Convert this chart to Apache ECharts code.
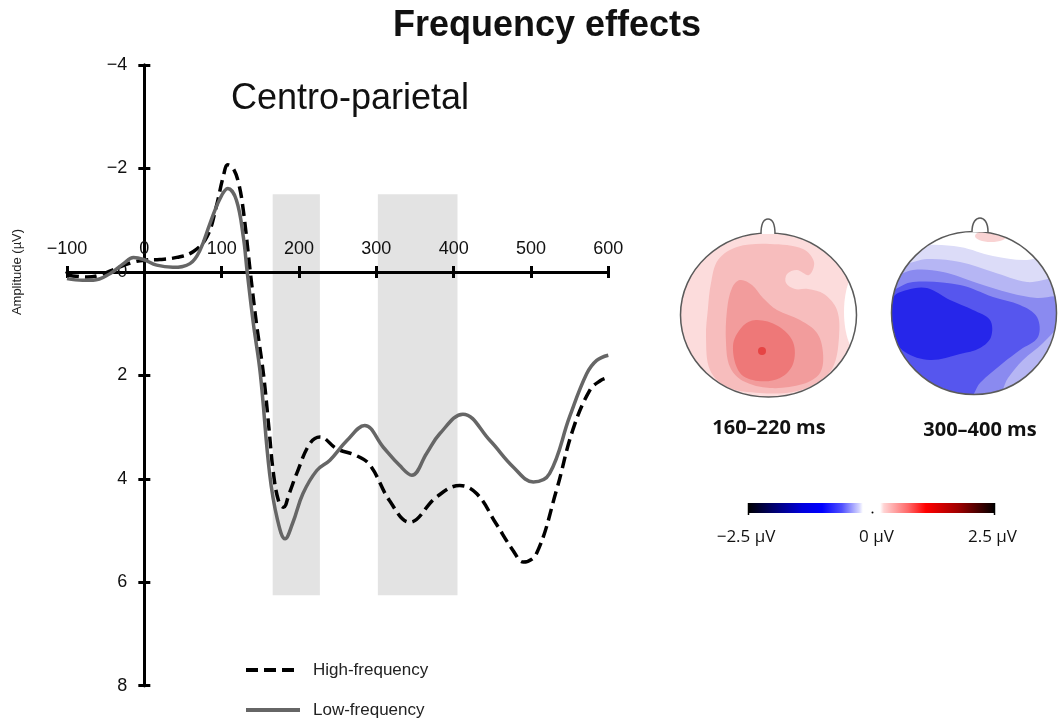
<!DOCTYPE html>
<html>
<head>
<meta charset="utf-8">
<script src="https://cdn.jsdelivr.net/npm/echarts@6/dist/echarts.min.js"></script>
<style>html,body{margin:0;padding:0;background:#fff}#c{width:1061px;height:720px}</style>
</head>
<body>
<div id="c"></div>
<script>
// ---- data ----
const seriesNames = ['High-frequency', 'Low-frequency'];
const hfTime = [-100,-74,-57,-36,-14,3,20,42,63,81,93,102,108,115,122,128,137,145,154,161,167,174,180,187,197,214,227,249,274,292,317,343,378,408,430,455,477,490,507,533,554,576,590,600];
const hfAmp  = [0.06,0.1,0.06,-0.07,-0.19,-0.23,-0.24,-0.28,-0.39,-0.68,-1.26,-1.84,-2.07,-2.0,-1.71,-1.19,0,1.0,1.97,3.0,3.9,4.45,4.55,4.3,3.9,3.32,3.19,3.42,3.55,3.74,4.42,4.84,4.35,4.13,4.29,4.87,5.39,5.61,5.45,4.22,3.06,2.29,2.1,2.04];
const lfTime = [-100,-80,-66,-44,-27,-14,-1,16,37,59,72,85,98,108,119,128,133,141,150,162,172,182,192,205,223,240,262,285,309,330,346,365,382,412,447,477,503,524,550,572,585,600];
const lfAmp  = [0.13,0.16,0.16,0.03,-0.16,-0.28,-0.24,-0.13,-0.09,-0.16,-0.42,-0.94,-1.42,-1.61,-1.39,-0.68,0.0,1.0,1.97,3.9,4.78,5.16,4.85,4.29,3.84,3.64,3.26,2.97,3.39,3.74,3.93,3.51,3.13,2.75,3.26,3.77,4.06,3.9,2.8,1.97,1.71,1.61];
const bandWindows = [[166, 227], [302, 405]];
const bandAmpRange = [-1.5, 6.25];
const xRange = [-100, 600], xStep = 100;
const yRange = [-4, 8], yStep = 2;
const topoLabels = ['160–220 ms', '300–400 ms'];
const scaleLabels = ['−2.5 µV', '0 µV', '2.5 µV'];

const hfData = hfTime.map((t, i) => [t, hfAmp[i]]);
const lfData = lfTime.map((t, i) => [t, lfAmp[i]]);
const minus = v => String(v).replace('-', '−');
const FONT = '"Liberation Sans", Arial, sans-serif';
const AX = '#000';

function axisCommon(extra) {
  return Object.assign({
    type: 'value', z: 2,
    axisLine: { show: true, onZero: true, onZeroAxisIndex: 0, lineStyle: { color: AX, width: 3 } },
    axisTick: { show: true, inside: false, length: 6, lineStyle: { color: AX, width: 3 } },
    splitLine: { show: false }
  }, extra);
}

// topomap helpers (decorative inset drawings)
const L = { cx: 768.5, cy: 315, rx: 88, ry: 82 };
const R = { cx: 974, cy: 313, rx: 82.5, ry: 81.5 };
function maskPath(x0, y0, x1, y1, e) {
  return `M${x0} ${y0} L${x1} ${y0} L${x1} ${y1} L${x0} ${y1} Z M${e.cx + e.rx} ${e.cy} A${e.rx} ${e.ry} 0 1 0 ${e.cx - e.rx} ${e.cy} A${e.rx} ${e.ry} 0 1 0 ${e.cx + e.rx} ${e.cy} Z`;
}
echarts.graphic.registerShape('maskL', echarts.graphic.extendPath(maskPath(672, 224, 878, 416, L), {}));
echarts.graphic.registerShape('maskR', echarts.graphic.extendPath(maskPath(876, 224, 1061, 416, R), {}));
echarts.graphic.registerShape('noseL', echarts.graphic.extendPath('M761 234 C761 223 764 219 768 219 C772 219 775 223 775 234', {}));
echarts.graphic.registerShape('noseR', echarts.graphic.extendPath('M972 232 C972 222 976 218 980 218 C984 218 988 222 988 232', {}));

function poly(points, color, z) {
  return { type: 'polygon', z: z, silent: true, shape: { points: points, smooth: 0.35 }, style: { fill: color } };
}

const graphics = [
  // left map
  { type: 'ellipse', z: 10, silent: true, shape: L, style: { fill: '#fcdcdc' } },
  { type: 'ellipse', z: 10, silent: true, shape: { cx: 860, cy: 312, rx: 16, ry: 42 }, style: { fill: '#ffffff' } },
  poly([[718,260],[737,247],[770,244],[803,249],[814,262],[809,275],[797,270],[787,274],[786,283],[795,289],[808,289],[824,294],[837,310],[839,337],[833,367],[817,383],[793,392],[760,393],[727,387],[710,370],[706,337],[708,308],[711,283]], '#f7bdbd', 10),
  poly([[740,280],[752,285],[763,298],[777,310],[800,320],[817,333],[823,353],[820,373],[803,384],[770,388],[743,381],[730,367],[726,343],[727,310],[732,288]], '#f29c9c', 10),
  poly([[733,346],[742,327],[756,320],[778,326],[793,342],[793,364],[780,378],[758,381],[740,373]], '#ee7878', 10),
  { type: 'circle', z: 10, silent: true, shape: { cx: 762, cy: 351, r: 4 }, style: { fill: '#e64444' } },
  // right map
  { type: 'ellipse', z: 10, silent: true, shape: R, style: { fill: '#ffffff' } },
  { type: 'ellipse', z: 10, silent: true, shape: { cx: 991, cy: 236, rx: 16, ry: 6 }, style: { fill: '#f9d3d3' } },
  poly([[882,252],[908,251],[927,245],[960,247],[993,256],[1027,260],[1060,254],[1060,362],[1050,378],[1035,392],[1030,399],[882,399]], '#dcdcf8', 10),
  poly([[882,266],[905,264],[927,259],[960,262],[993,272],[1027,282],[1060,281],[1060,343],[1045,356],[1035,370],[1022,386],[1012,399],[882,399]], '#b6b6f4', 10),
  poly([[882,282],[893,278],[913,270],[943,272],[977,283],[1010,293],[1037,298],[1060,298],[1060,322],[1043,343],[1023,360],[1008,378],[995,399],[882,399]], '#8a8af0', 10),
  poly([[882,294],[893,290],[913,282],[960,285],[993,297],[1020,305],[1037,317],[1038,337],[1020,350],[1003,363],[980,383],[968,399],[882,399]], '#5656ee', 10),
  poly([[893,298],[907,290],[927,288],[950,300],[973,310],[990,320],[991,337],[980,348],[960,354],[930,360],[905,352],[893,335]], '#2626ea', 10),
  // masks, outlines, noses
  { type: 'maskL', z: 11, silent: true, style: { fill: '#fff' } },
  { type: 'maskR', z: 11, silent: true, style: { fill: '#fff' } },
  { type: 'ellipse', z: 12, silent: true, shape: L, style: { fill: null, stroke: '#5a5a5a', lineWidth: 1.5 } },
  { type: 'ellipse', z: 12, silent: true, shape: R, style: { fill: null, stroke: '#5a5a5a', lineWidth: 1.5 } },
  { type: 'noseL', z: 12, silent: true, style: { fill: '#fff', stroke: '#5a5a5a', lineWidth: 1.5 } },
  { type: 'noseR', z: 12, silent: true, style: { fill: '#fff', stroke: '#5a5a5a', lineWidth: 1.5 } },
  // topomap labels
  { type: 'text', z: 12, x: 769, y: 428, style: { text: topoLabels[0], font: 'bold 20px "Open Sans", sans-serif', fill: '#111', align: 'center', verticalAlign: 'middle' } },
  { type: 'text', z: 12, x: 980, y: 430, style: { text: topoLabels[1], font: 'bold 20px "Open Sans", sans-serif', fill: '#111', align: 'center', verticalAlign: 'middle' } },
  // colour scale
  { type: 'rect', z: 12, silent: true, shape: { x: 748, y: 503, width: 247, height: 10 },
    style: { fill: new echarts.graphic.LinearGradient(0, 0, 1, 0, [
      { offset: 0, color: '#000000' }, { offset: 0.1, color: '#00006a' }, { offset: 0.22, color: '#0000dd' },
      { offset: 0.3, color: '#0000ff' }, { offset: 0.38, color: '#5050ff' }, { offset: 0.45, color: '#d4d4ff' },
      { offset: 0.465, color: '#ffffff' }, { offset: 0.535, color: '#ffffff' }, { offset: 0.55, color: '#ffd4d4' },
      { offset: 0.65, color: '#ff6666' }, { offset: 0.72, color: '#ff0000' }, { offset: 0.85, color: '#a00000' },
      { offset: 1, color: '#000000' }]) } },
  { type: 'line', z: 12, silent: true, shape: { x1: 748.5, y1: 503, x2: 748.5, y2: 515 }, style: { stroke: '#000', lineWidth: 1.5 } },
  { type: 'line', z: 12, silent: true, shape: { x1: 994.5, y1: 503, x2: 994.5, y2: 515 }, style: { stroke: '#000', lineWidth: 1.5 } },
  { type: 'circle', z: 12, silent: true, shape: { cx: 872.5, cy: 512.5, r: 1 }, style: { fill: '#000' } },
  { type: 'text', z: 12, x: 746, y: 537, style: { text: scaleLabels[0], font: '17px "Open Sans", sans-serif', fill: '#111', align: 'center', verticalAlign: 'middle' } },
  { type: 'text', z: 12, x: 876.5, y: 537, style: { text: scaleLabels[1], font: '17px "Open Sans", sans-serif', fill: '#111', align: 'center', verticalAlign: 'middle' } },
  { type: 'text', z: 12, x: 992.5, y: 537, style: { text: scaleLabels[2], font: '17px "Open Sans", sans-serif', fill: '#111', align: 'center', verticalAlign: 'middle' } },
  // panel label and axis name
  { type: 'text', z: 12, x: 231, y: 99, style: { text: 'Centro-parietal', font: '36px ' + FONT, fill: '#111', align: 'left', verticalAlign: 'middle' } },
  { type: 'text', z: 12, x: 17, y: 272, rotation: Math.PI / 2, style: { text: 'Amplitude (µV)', font: '13px ' + FONT, fill: '#222', align: 'center', verticalAlign: 'middle' } }
];

function legendFor(name, top) {
  return {
    orient: 'vertical', left: 244, top: top, padding: 0, itemWidth: 54, itemHeight: 14,
    data: [name],
    itemStyle: { opacity: 0, color: 'rgba(0,0,0,0)', borderWidth: 0 },
    lineStyle: { width: 4 },
    textStyle: { fontFamily: FONT, fontSize: 17, color: '#222', lineHeight: 20, padding: [0, 0, 0, 8] }
  };
}

const chart = echarts.init(document.getElementById('c'), null, { renderer: 'canvas' });
chart.setOption({
  animation: false,
  backgroundColor: '#fff',
  title: {
    text: 'Frequency effects', left: 542, top: 3, textAlign: 'center',
    textStyle: { fontFamily: FONT, fontWeight: 'bold', fontSize: 36, color: '#111' }
  },
  grid: { left: 67, top: 65, width: 541.3, height: 620.7, containLabel: false },
  legend: [legendFor(seriesNames[0], 660), legendFor(seriesNames[1], 700)],
  xAxis: [
    axisCommon({ min: xRange[0], max: xRange[1], interval: xStep, position: 'top',
      axisLabel: { show: true, margin: 14, fontFamily: FONT, fontSize: 18, color: '#111', formatter: minus } }),
    axisCommon({ min: xRange[0], max: xRange[1], interval: xStep, position: 'bottom',
      axisLabel: { show: false } })
  ],
  yAxis: [
    axisCommon({ min: yRange[0], max: yRange[1], interval: yStep, inverse: true, position: 'left',
      axisLabel: { show: true, margin: 17, fontFamily: FONT, fontSize: 18, color: '#111', formatter: minus } }),
    axisCommon({ min: yRange[0], max: yRange[1], interval: yStep, inverse: true, position: 'right',
      axisLabel: { show: false } })
  ],
  series: [
    {
      name: seriesNames[0], type: 'line', z: 3, data: hfData, smooth: 0.4, symbol: 'none',
      lineStyle: { color: '#000', width: 3.5, type: [12, 6] }, itemStyle: { color: '#000' },
      markArea: {
        silent: true, itemStyle: { color: '#e3e3e3' },
        data: bandWindows.map(b => [{ xAxis: b[0], yAxis: bandAmpRange[0] }, { xAxis: b[1], yAxis: bandAmpRange[1] }])
      }
    },
    {
      name: seriesNames[1], type: 'line', z: 3, data: lfData, smooth: 0.4, symbol: 'none',
      lineStyle: { color: '#666', width: 3.5 }, itemStyle: { color: '#666' }
    }
  ],
  graphic: graphics
});

// place the crossing axes (and their labels) at the zero lines, using the chart's own scales
const px0 = chart.convertToPixel({ xAxisIndex: 0 }, 0);
const pxL = chart.convertToPixel({ xAxisIndex: 0 }, xRange[0]);
const pxR = chart.convertToPixel({ xAxisIndex: 0 }, xRange[1]);
const py0 = chart.convertToPixel({ yAxisIndex: 0 }, 0);
const pyT = chart.convertToPixel({ yAxisIndex: 0 }, yRange[0]);
const pyB = chart.convertToPixel({ yAxisIndex: 0 }, yRange[1]);
chart.setOption({
  xAxis: [
    { axisLine: { onZero: false }, offset: -(py0 - pyT) },
    { axisLine: { onZero: false }, offset: -(pyB - py0) }
  ],
  yAxis: [
    { axisLine: { onZero: false }, offset: -(px0 - pxL) },
    { axisLine: { onZero: false }, offset: -(pxR - px0) }
  ]
});
</script>
</body>
</html>
